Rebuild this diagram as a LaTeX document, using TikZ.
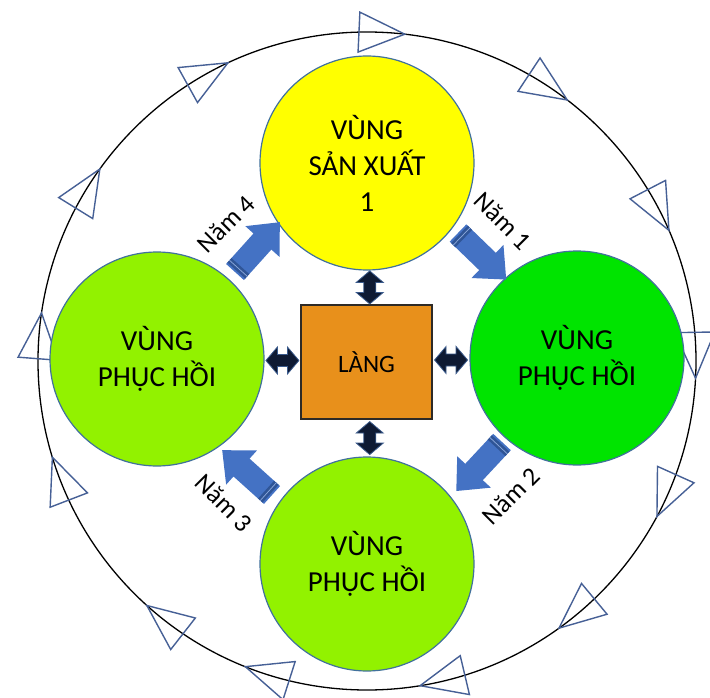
\documentclass[tikz,border=0pt]{standalone}
\usepackage{fontspec}
\setmainfont{Carlito}
\usetikzlibrary{calc}

\definecolor{zoneline}{HTML}{41719C}
\definecolor{zoneyellow}{HTML}{FFFF00}
\definecolor{zonelime}{RGB}{146,242,0}
\definecolor{zonegreen}{RGB}{0,228,0}
\definecolor{villagefill}{HTML}{E8901B}
\definecolor{villageline}{HTML}{2E2A26}
\definecolor{yearblue}{HTML}{4472C4}
\definecolor{yearband}{HTML}{2F5597}
\definecolor{linkfill}{HTML}{0E1A33}
\definecolor{linkline}{HTML}{3A5A8C}
\definecolor{markerline}{RGB}{70,96,150}

\begin{document}
\begin{tikzpicture}[x=1pt,y=-1pt,
  zone/.style={circle, draw=zoneline, line width=1.2pt, minimum size=214pt,
    inner sep=0pt, align=center, text=black, font=\fontsize{29}{36}\selectfont},
  village/.style={rectangle, draw=villageline, fill=villagefill, line width=1.5pt,
    minimum width=131pt, minimum height=114pt, font=\fontsize{25}{30}\selectfont},
  yearlabel/.style={inner sep=0pt, font=\fontsize{26}{31}\selectfont},
  orbit/.style={draw=black, line width=1.3pt},
  marker/.style={draw=markerline, line width=1.4pt, line join=miter},
  dblarr/.pic={
    \filldraw[fill=linkfill, draw=linkline, line width=0.8pt]
      (0,-16.5) -- (13.5,-5) -- (6,-5) -- (6,5) -- (13.5,5) -- (0,16.5)
      -- (-13.5,5) -- (-6,5) -- (-6,-5) -- (-13.5,-5) -- cycle;
  },
  yeararr/.pic={
    \fill[yearblue] (0,-12) -- (41,-12) -- (41,-23) -- (67,0) -- (41,23)
      -- (41,12) -- (0,12) -- cycle;
    \fill[yearband] (2,-12) rectangle (8,12);
    \draw[yearblue!60!white, line width=0.7pt] (5,-12) -- (5,12);
  }]
\useasboundingbox (0,0) rectangle (710,698);
\fill[white] (0,0) rectangle (710,698);

% outer rotation ring with direction markers
\coordinate (O) at (367,361);
\draw[orbit] (O) circle[radius=329pt];
\foreach \a in {83.4,115,144.3,171.6,197,228,248.3,279.3,305.7,331.8,357,23.4,52.5}{
  \coordinate (tip) at ($(O)+(-\a:329)$);
  \coordinate (mid) at ($(O)+(-\a-8:329)$);
  \draw[marker] (tip) -- ($(mid)!20pt!90:(tip)$) -- ($(mid)!20pt!-90:(tip)$) -- cycle;
}

% zones and village
\node[zone, fill=zoneyellow] (yel) at (367,163) {VÙNG\\SẢN XUẤT\\1};
\node[zone, fill=zonelime]   (lft) at (157,359) {VÙNG\\PHỤC HỒI};
\node[zone, fill=zonegreen]  (rgt) at (577,358) {VÙNG\\PHỤC HỒI};
\node[zone, fill=zonelime]   (bot) at (367,564) {VÙNG\\PHỤC HỒI};
\node[village] (sq) at (366.5,362) {LÀNG};

% two-way links between village and zones
\pic at ($(sq.north)!0.5!(yel.south)+(3,0)$) {dblarr};
\pic at ($(sq.south)!0.5!(bot.north)+(3,0)$) {dblarr};
\pic[rotate=90] at ($(sq.west)!0.5!(lft.east)$) {dblarr};
\pic[rotate=90] at ($(sq.east)!0.5!(rgt.west)$) {dblarr};

% yearly rotation arrows
\coordinate (t1) at (458,233);
\coordinate (t2) at (502,442);
\coordinate (t3) at (272,495);
\coordinate (t4) at (235,272);
\pic[rotate=-44] at (t1) {yeararr};
\pic[rotate=-133] at (t2) {yeararr};
\pic[rotate=138] at (t3) {yeararr};
\pic[rotate=48] at (t4) {yeararr};

\node[yearlabel, rotate=-45] (y1) at (503,221) {Năm 1};
\node[yearlabel, rotate=45]  (y2) at (511,496) {Năm 2};
\node[yearlabel, rotate=-45] (y3) at (224,503) {Năm 3};
\node[yearlabel, rotate=45]  (y4) at (226,224) {Năm 4};
\end{tikzpicture}
\end{document}
